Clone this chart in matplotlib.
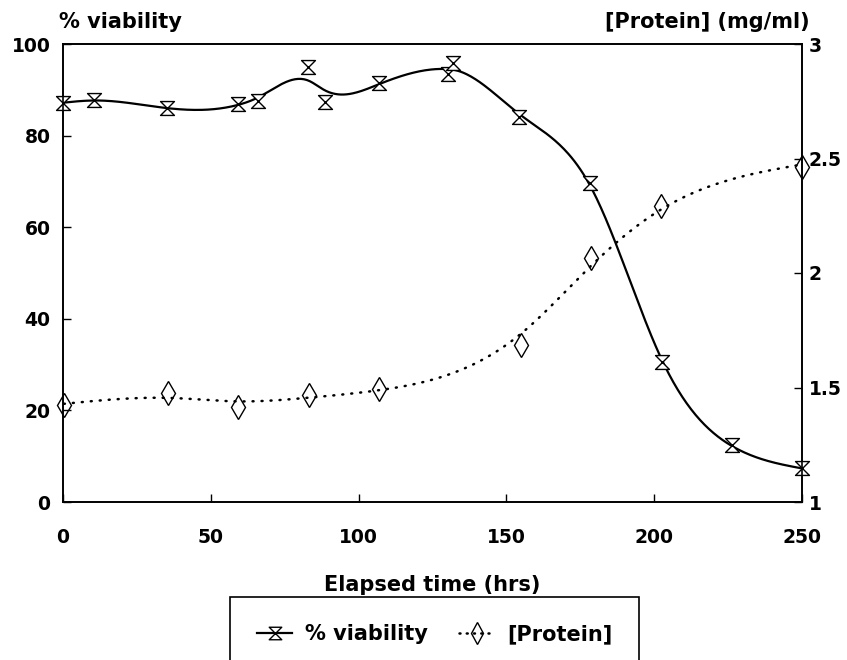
import numpy as np
import matplotlib
matplotlib.use("Agg")
import matplotlib.pyplot as plt
from matplotlib.path import Path
from matplotlib.lines import Line2D

# cell viability (%) vs elapsed time (hrs)
via_time = [0, 10.6, 35.1, 59.1, 65.9, 83.0, 88.6, 106.9, 130.1, 131.8, 154.4, 178.3, 202.5, 226.2, 250.0]
via_pct = [87.1, 87.8, 86.0, 86.8, 87.6, 94.9, 87.3, 91.5, 93.4, 95.8, 84.1, 69.6, 30.6, 12.4, 7.4]

# protein concentration (mg/ml) vs elapsed time (hrs)
prot_time = [0.3, 35.6, 59.3, 83.3, 107.0, 154.8, 178.6, 202.3, 250.0]
prot_conc = [1.424, 1.475, 1.416, 1.467, 1.495, 1.686, 2.064, 2.293, 2.464]

x_ticks = [0, 50, 100, 150, 200, 250]
left_ticks = [0, 20, 40, 60, 80, 100]
right_ticks = [1, 1.5, 2, 2.5, 3]
right_labels = ["1", "1.5", "2", "2.5", "3"]


def smooth_curve(t, y, lam, step=0.5):
    # penalised least squares on a fine grid (Whittaker smoother)
    t = np.asarray(t, float)
    y = np.asarray(y, float)
    grid = np.arange(t.min(), t.max() + step / 2, step)
    n = len(grid)
    w = np.zeros(n)
    z = np.zeros(n)
    idx = np.rint((t - grid[0]) / step).astype(int)
    np.add.at(w, idx, 1.0)
    np.add.at(z, idx, y)
    d = np.diff(np.eye(n), 2, axis=0)
    a = np.diag(w) + lam * d.T @ d
    return grid, np.linalg.solve(a, z)


# hourglass marker
hourglass = Path([(-1, 1), (1, 1), (-1, -1), (1, -1), (-1, 1)],
                 [Path.MOVETO, Path.LINETO, Path.LINETO, Path.LINETO, Path.CLOSEPOLY])

num_font = {"family": "DejaVu Sans", "weight": "bold", "size": 13.5}
txt_font = {"family": "DejaVu Sans", "weight": "bold", "size": 15}
plt.rcParams["font.family"] = "DejaVu Sans"
plt.rcParams["font.weight"] = "bold"

fig = plt.figure(figsize=(8.47, 6.6), dpi=100)
ax = fig.add_axes([63 / 847, 1 - 502 / 660, (802 - 63) / 847, (502 - 44) / 660])
ax2 = ax.twinx()

tv, yv = smooth_curve(via_time, via_pct, lam=600)
ax.plot(tv, yv, color="black", lw=1.6, zorder=3)
ax.plot(via_time, via_pct, linestyle="none", marker=hourglass, markersize=10,
        markerfacecolor="white", markeredgecolor="black", markeredgewidth=1.0,
        clip_on=False, zorder=4)

tp, yp = smooth_curve(prot_time, prot_conc, lam=15000)
ax2.plot(tp, yp, color="black", lw=1.8, linestyle=(0, (0.4, 3.2)),
         dash_capstyle="round", zorder=3)
ax2.plot(prot_time, prot_conc, linestyle="none", marker="d", markersize=12,
         markerfacecolor="none", markeredgecolor="black", markeredgewidth=1.0,
         clip_on=False, zorder=4)

ax.set_xlim(0, 250)
ax.set_ylim(0, 100)
ax2.set_ylim(1, 3)

ax.set_xticks(x_ticks)
ax.set_xticklabels([str(v) for v in x_ticks], fontdict=num_font)
ax.set_yticks(left_ticks)
ax.set_yticklabels([str(v) for v in left_ticks], fontdict=num_font)
ax2.set_yticks(right_ticks)
ax2.set_yticklabels(right_labels, fontdict=num_font)

ax.tick_params(axis="x", direction="in", length=6, width=1, pad=19)
ax.tick_params(axis="y", direction="in", length=6, width=1, pad=9)
ax2.tick_params(axis="y", direction="in", length=6, width=1, pad=5)

for a in (ax, ax2):
    for s in a.spines.values():
        s.set_linewidth(1.2)

ax.set_xlabel("Elapsed time (hrs)", fontdict=txt_font, labelpad=20)

fig.text(59 / 847, 1 - 22 / 660, "% viability", ha="left", va="center", **txt_font)
fig.text(810 / 847, 1 - 22 / 660, "[Protein] (mg/ml)", ha="right", va="center", **txt_font)

handles = [
    Line2D([], [], color="black", lw=1.6, marker=hourglass, markersize=9,
           markerfacecolor="white", markeredgecolor="black", markeredgewidth=1.0),
    Line2D([], [], color="black", lw=1.8, linestyle=(0, (0.4, 2.5)), dash_capstyle="round",
           marker="d", markersize=11, markerfacecolor="none", markeredgecolor="black",
           markeredgewidth=1.0),
]
leg = fig.legend(handles, ["% viability", "[Protein]"], loc="upper center",
                 bbox_to_anchor=(434.5 / 847, 1 - 597 / 660), borderaxespad=0,
                 ncol=2, frameon=True, fancybox=False, framealpha=1, edgecolor="black",
                 borderpad=1.3, handlelength=1.7, handletextpad=0.6, columnspacing=1.5,
                 prop=txt_font)
leg.get_frame().set_linewidth(1.2)

fig.savefig("out.png", dpi=100)
